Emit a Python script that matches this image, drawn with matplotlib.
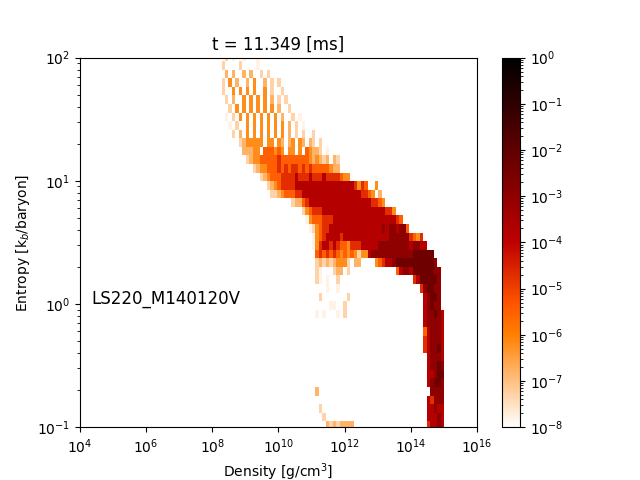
#### Entropy vs density snapshot ####

import numpy as np
import matplotlib
matplotlib.use("Agg")
import matplotlib.pyplot as plt
from matplotlib.colors import LogNorm

# log10 of the (normalised) mass in a cell, one entry per digit of the cell map
levels = [-7.8, -7.3, -6.8, -6.2, -5.5, -4.7, -3.8, -3.0, -2.3, -1.6]

# bin edges: log10 density [g/cm^3] and log10 entropy [kb/baryon] (top to bottom)
rho_edges = 3.9637 + 0.105263 * np.arange(116)
s_edges = 2.0411 - 0.0696 * np.arange(45)

# filled cells, one line per entropy row from the top: (first density column, digits)
cell_rows = [
    [(42, "1 0  0   0")],
    [(41, "1    1    0")],
    [(42, "2 2  2 2  1 1")],
    [(41, "1 3 2  2 3  2 1 1")],
    [(41, "1  3 3 3 3  3 1  1")],
    [(42, "1 2  3 3 3 3 2 1 1")],
    [(43, "1 3 3 3 3 3 3 2  1")],
    [(42, "0 1 3 3 3 3 3 3 2  1 0")],
    [(43, "0 1  3 3 3 3 3 3 2 1 0")],
    [(44, "1 2 3 3 3 3 3 3 2 1 1  1")],
    [(46, "1233333 33 32 23 32 21 1")],
    [(47, "22233 444343 33 3 43221 0")],
    [(48, "1233"), (52, "44444544444444"), (66, "323212"), (73, "21")],
    [(50, "123344"), (56, "45454554545"), (67, "44444322")],
    [(52, "123444"), (58, "55556555655565555"), (75, "433")],
    [(54, "12345555"), (62, "66666666666666666"), (79, "5354"), (85, "3")],
    [(55, "112344455"), (64, "66666666666666666"), (81, "5543 2")],
    [(61, "12245"), (66, "666666666666666666"), (84, "5543")],
    [(64, "134555"), (70, "666666666666666666"), (88, "553")],
    [(65, "03444555"), (73, "666666666666666666"), (91, "54")],
    [(66, "013455"), (72, "666666666666666"), (87, "7677677"), (94, "4")],
    [(67, "03456666"), (75, "56666666666666"), (89, "777777"), (95, "5435")],
    [(67, "0356656544355566666"), (86, "777777777"), (95, "67766")],
    [(68, "4545454"), (75, "34343"), (80, "133"), (83, "6777777777777"), (96, "888888")],
    [(68, "1212123331 22"), (85, "34566"), (90, "7888888888887")],
    [(68, "10"), (73, "122 1"), (91, "4677"), (95, "6888888"), (102, "77")],
    [(68, "10 0  1"), (96, "5688888"), (103, "7")],
    [(71, "0  0"), (98, "578877")],
    [(69, "1"), (77, "1"), (99, "67887")],
    [(72, "00  1"), (99, "67877")],
    [(68, "0 0   0 1"), (99, "677876")],
    [(99, "677776")],
    [(99, "467776")],
    [(99, "567776")],
    [(99, "567786")],
    [(100, "67776")],
    [(100, "67787")],
    [(100, "66788")],
    [(100, "67887")],
    [(68, "2"), (101, "7777")],
    [(100, "65777")],
    [(69, "1"), (100, "66766")],
    [(70, "1"), (100, "66676")],
    [(71, "21212222"), (100, "56676")],
]

# Build the histogram array from the cell map
grid = np.full((len(s_edges) - 1, len(rho_edges) - 1), np.nan)
for r, segs in enumerate(cell_rows):
    for c0, txt in segs:
        for k, ch in enumerate(txt):
            if ch != " ":
                grid[r, c0 + k] = 10 ** levels[int(ch)]

fig, ax = plt.subplots(figsize=(6.4, 4.8), dpi=100)
mesh = ax.pcolormesh(10 ** rho_edges, 10 ** s_edges, np.ma.masked_invalid(grid),
                     cmap="gist_heat_r", norm=LogNorm(vmin=1e-8, vmax=1))
ax.set_xscale("log")
ax.set_yscale("log")
ax.set_xlim(1e4, 1e16)
ax.set_ylim(1e-1, 1e2)
ax.set_xlabel("Density [g/cm$^3$]")
ax.set_ylabel("Entropy [k$_b$/baryon]")
ax.set_title("t = 11.349 [ms]")
ax.text(0.028, 0.335, "LS220_M140120V", transform=ax.transAxes, fontsize=12)

cbar = plt.colorbar(mesh)
cbar.set_ticks([10.0 ** k for k in range(-8, 1)])

fig.savefig("out.png")
